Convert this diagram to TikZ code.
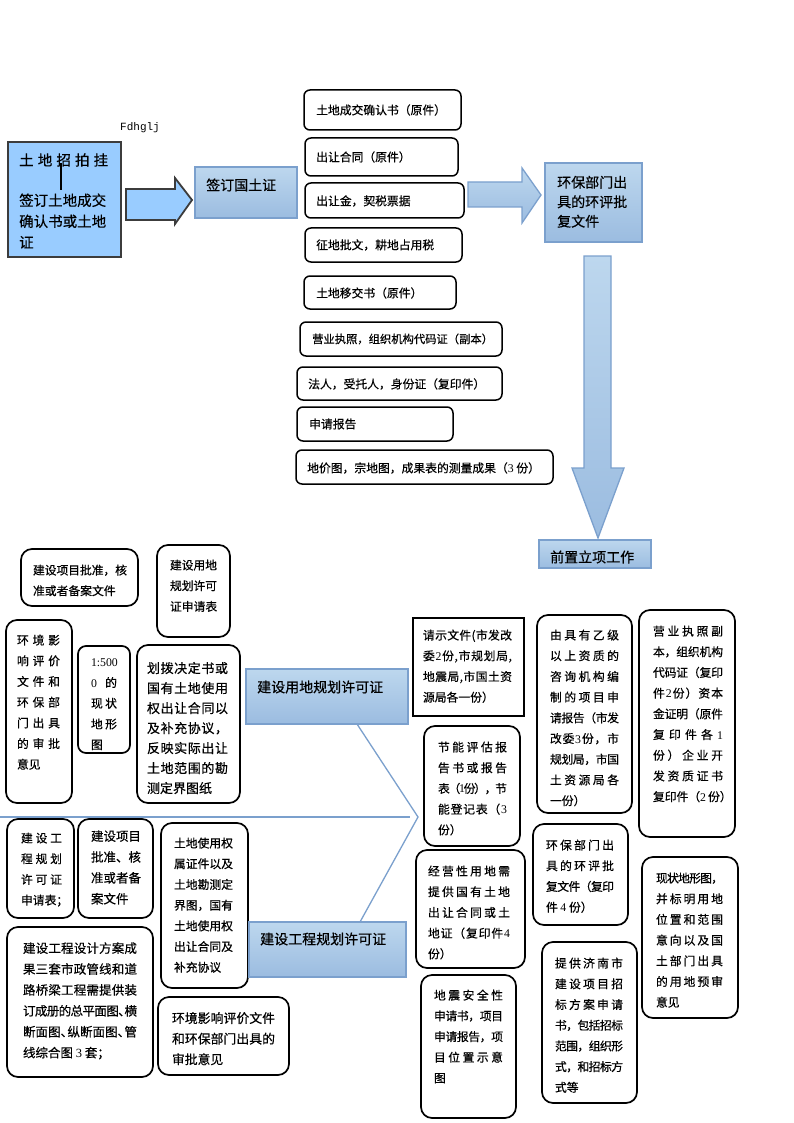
\documentclass[tikz,border=0pt]{standalone}
\usepackage{fontspec}
\setmainfont{Noto Sans CJK SC}[FakeBold=0.5]
\newfontfamily\dfont{Liberation Serif}
\newfontfamily\mfont{Liberation Mono}
\usetikzlibrary{fit,calc}
\definecolor{btop}{HTML}{BDD7EE}
\definecolor{bbot}{HTML}{9BBCE0}
\definecolor{bborder}{HTML}{7BA0CD}
\definecolor{lblue}{HTML}{99CCFF}
\definecolor{dgray}{HTML}{3C3C3C}
\newcommand\dg[1]{{\dfont #1}}
\newcommand\dun{\makebox[0.55em][l]{、}}
\def\sg{\hskip 0pt plus 1fil minus 1fil\relax}
\def\spr#1#2{\hbox to #1{\sprA#2\relax}}
\def\sprA#1{\ifx\relax#1\else#1\expandafter\sprB\fi}
\def\sprB#1{\ifx\relax#1\else\sg#1\expandafter\sprB\fi}
\tikzset{
 rbox/.style={draw=black, line width=1.5pt, rounded corners=6pt, fill=white, inner sep=0pt, outer sep=0pt},
 rbig/.style={rbox, line width=1.7pt, rounded corners=11pt},
 sqbox/.style={draw=black, line width=2pt, fill=white, inner sep=0pt, outer sep=0pt},
 bbox/.style={draw=bborder, line width=1.5pt, top color=btop, bottom color=bbot, inner sep=0pt, outer sep=0pt},
 tx/.style={inner sep=0pt, outer sep=0pt, align=left, anchor=north west, font=\fontsize{11.8}{20.7}\selectfont},
 txm/.style={tx, font=\fontsize{12.5}{20.9}\selectfont},
 tline/.style={inner sep=0pt, anchor=west, font=\fontsize{11.8}{14}\selectfont},
 ttl/.style={inner sep=0pt, anchor=west, font=\fontsize{14}{19.5}\selectfont},
 conn/.style={draw=bborder, line width=1.3pt},
 barrow/.style={draw=bborder, line width=1.3pt, top color=btop, bottom color=bbot},
}
\begin{document}
\begin{tikzpicture}[x=1pt,y=-1pt]
\useasboundingbox (0,0) rectangle (794,1123);
\fill[white] (0,0) rectangle (794,1123);

% ---------- top-left ----------
\node[draw=dgray, line width=2.2pt, fill=lblue, inner sep=0pt, outer sep=0pt, fit={(8,142) (121,257)}] (tdzp) {};
\node[inner sep=0pt, anchor=west, font=\fontsize{14.5}{21}\selectfont] (tdzp1) at (19,160) {\spr{89pt}{土地招拍挂}};
\node[inner sep=0pt, anchor=north west, align=left, font=\fontsize{14.5}{21}\selectfont] (tdzp2) at (19,193.3) {签订土地成交\\确认书或土地\\证};
\draw[line width=1.8pt] (61,163) -- (61,190);
\node[inner sep=0pt, anchor=west, font=\mfont\fontsize{11}{12}\selectfont] (fd) at (120,128) {Fdhglj};

\draw[draw=dgray, line width=1.8pt, fill=lblue] (126,189) -- (175,189) -- (175,178) -- (192,200) -- (175,224) -- (175,220) -- (126,220) -- cycle;

\node[bbox, fit={(195,167) (297,218)}] (qtz) {};
\node[ttl] (qtzt) at (206,185) {签订国土证};

% ---------- top column ----------
\node[rbox, fit={(304,90) (461,130)}] (b1) {};
\node[tline] (t1) at (316,110) {土地成交确认书（原件）};
\node[rbox, fit={(305,138) (458,176)}] (b2) {};
\node[tline] (t2) at (316,157) {出让合同（原件）};
\node[rbox, fit={(305,183) (464,218)}] (b3) {};
\node[tline] (t3) at (316,201) {出让金，契税票据};
\node[rbox, fit={(305,228) (462,262)}] (b4) {};
\node[tline] (t4) at (316,245) {征地批文，耕地占用税};
\node[rbox, fit={(304,276) (456,309)}] (b5) {};
\node[tline] (t5) at (316,293) {土地移交书（原件）};
\node[rbox, fit={(300,322) (502,356)}] (b6) {};
\node[tline, font=\fontsize{11.3}{14}\selectfont] (t6) at (312,339) {营业执照，组织机构代码证（副本）};
\node[rbox, fit={(297,367) (502,400)}] (b7) {};
\node[tline] (t7) at (308,384) {法人，受托人，身份证（复印件）};
\node[rbox, fit={(297,407) (453,441)}] (b8) {};
\node[tline] (t8) at (309,424) {申请报告};
\node[rbox, fit={(296,450) (553,484)}] (b9) {};
\node[tline] (t9) at (307,468) {地价图，宗地图，成果表的测量成果（\dg{3} 份）};

\path[barrow] (468,182) -- (522,182) -- (522,168) -- (541,195) -- (522,223) -- (522,207) -- (468,207) -- cycle;
\node[bbox, fit={(545,163) (642,242)}] (hbwj) {};
\node[inner sep=0pt, anchor=north west, align=left, font=\fontsize{14}{19.5}\selectfont] (hbwjt) at (557,175.6) {环保部门出\\具的环评批\\复文件};

\path[barrow] (584,256) -- (611,256) -- (611,468) -- (624,468) -- (598,538) -- (572,468) -- (584,468) -- cycle;
\node[bbox, fit={(539,540) (651,568)}] (qzlx) {};
\node[ttl] (qzlxt) at (550,557) {前置立项工作};

% ---------- lower left group ----------
\node[rbig, fit={(21,549) (138,606)}] (a1) {};
\node[tx] (a1t) at (33,564.6) {\spr{94pt}{建设项目批准，核}\\准或者备案文件};
\node[rbig, fit={(157,545) (230,637)}] (b1s) {};
\node[tx] (b1st) at (170,559.6) {\spr{47pt}{建设用地}\\\spr{47pt}{规划许可}\\证申请表};
\node[rbig, fit={(6,620) (72,803)}] (c1) {};
\node[tx] (c1t) at (17,634.6) {\spr{43pt}{环境影}\\\spr{43pt}{响评价}\\\spr{43pt}{文件和}\\\spr{43pt}{环保部}\\\spr{43pt}{门出具}\\\spr{43pt}{的审批}\\意见};
\node[rbig, rounded corners=8pt, fit={(78,646) (130,753)}] (d1) {};
\begin{scope}
\clip (80,648) rectangle (128,751.5);
\node[tx] (d1t) at (91,658.5) {\dg{1:500}\\\spr{26pt}{{\dg0}的}\\\spr{26pt}{现状}\\\spr{26pt}{地形}\\图};
\end{scope}
\node[rbig, fit={(137,645) (240,803)}] (e1) {};
\node[tx, font=\fontsize{13}{20}\selectfont] (e1t) at (147,662) {\spr{81pt}{划拨决定书或}\\\spr{81pt}{国有土地使用}\\\spr{81pt}{权出让合同以}\\\spr{81pt}{及补充协议，}\\\spr{81pt}{反映实际出让}\\\spr{81pt}{土地范围的勘}\\测定界图纸};

\node[bbox, fit={(246,669) (408,724)}] (jsyd) {};
\node[ttl] (jsydt) at (257,687) {建设用地规划许可证};

% ---------- right group ----------
\node[sqbox, fit={(413,618) (524,716)}] (g1) {};
\node[tx] (g1t) at (423,629.6) {\spr{89pt}{请示文件(市发改}\\\spr{89pt}{委{\dg2}份,市规划局,}\\\spr{89pt}{地震局,市国土资}\\源局各一份）};
\node[rbig, fit={(424,726) (520,846)}] (h1) {};
\node[tx] (h1t) at (438,741.6) {\spr{69pt}{节能评估报}\\\spr{69pt}{告书或报告}\\\spr{69pt}{表（{\dg1}份），节}\\\spr{69pt}{能登记表（{\dg3}}\\份）};
\node[rbig, fit={(537,615) (632,813)}] (i1) {};
\node[tx] (i1t) at (550,629.6) {\spr{69pt}{由具有乙级}\\\spr{69pt}{以上资质的}\\\spr{69pt}{咨询机构编}\\\spr{69pt}{制的项目申}\\\spr{69pt}{请报告（市发}\\\spr{69pt}{改委{\dg3}份，市}\\\spr{69pt}{规划局，市国}\\\spr{69pt}{土资源局各}\\一份）};
\node[rbig, fit={(639,610) (735,837)}] (j1) {};
\node[tx] (j1t) at (653,625.6) {\spr{70pt}{营业执照副}\\\spr{70pt}{本，组织机构}\\\spr{70pt}{代码证（复印}\\\spr{70pt}{件{\dg2}份）资本}\\\spr{70pt}{金证明（原件}\\\spr{70pt}{复印件各{\dg1}}\\\spr{70pt}{份）企业开}\\\spr{70pt}{发资质证书}\\复印件（\dg{2}\,份）};
\node[rbig, fit={(533,824) (628,925)}] (k1) {};
\node[tx] (k1t) at (546,839.6) {\spr{68pt}{环保部门出}\\\spr{68pt}{具的环评批}\\\spr{68pt}{复文件（复印}\\件 \dg{4} 份）};
\node[rbig, fit={(416,850) (525,968)}] (l1) {};
\node[tx] (l1t) at (428,865.6) {\spr{82pt}{经营性用地需}\\\spr{82pt}{提供国有土地}\\\spr{82pt}{出让合同或土}\\\spr{82pt}{地证（复印件{\dg4}}\\份）};
\node[rbig, fit={(421,975) (516,1118)}] (m1) {};
\node[tx] (m1t) at (434,989.6) {\spr{69pt}{地震安全性}\\\spr{69pt}{申请书，项目}\\\spr{69pt}{申请报告，项}\\\spr{69pt}{目位置示意}\\图};
\node[rbig, fit={(542,942) (637,1103)}] (n1) {};
\node[tx] (n1t) at (555,957.6) {\spr{68pt}{提供济南市}\\\spr{68pt}{建设项目招}\\\spr{68pt}{标方案申请}\\\spr{68pt}{书，包括招标}\\\spr{68pt}{范围，组织形}\\\spr{68pt}{式，和招标方}\\式等};
\node[rbig, fit={(642,857) (738,1018)}] (o1) {};
\node[tx] (o1t) at (656,872.6) {\spr{67pt}{现状地形图，}\\\spr{67pt}{并标明用地}\\\spr{67pt}{位置和范围}\\\spr{67pt}{意向以及国}\\\spr{67pt}{土部门出具}\\\spr{67pt}{的用地预审}\\意见};

% ---------- lower-left bottom group ----------
\node[rbig, fit={(7,819) (74,918)}] (p1) {};
\node[tx] (p1t) at (21,832.6) {\spr{41pt}{建设工}\\\spr{41pt}{程规划}\\\spr{41pt}{许可证}\\申请表；};
\node[rbig, fit={(78,819) (153,918)}] (q1) {};
\node[txm] (q1t) at (91,830.3) {\spr{50pt}{建设项目}\\\spr{50pt}{批准、核}\\\spr{50pt}{准或者备}\\案文件};
\node[rbig, fit={(161,823) (248,988)}] (r1) {};
\node[tx] (r1t) at (174,837.6) {\spr{59pt}{土地使用权}\\\spr{59pt}{属证件以及}\\\spr{59pt}{土地勘测定}\\\spr{59pt}{界图，国有}\\\spr{59pt}{土地使用权}\\\spr{59pt}{出让合同及}\\补充协议};
\node[rbig, fit={(7,927) (153,1077)}] (s1) {};
\node[txm] (s1t) at (23,942.3) {\spr{114pt}{建设工程设计方案成}\\\spr{114pt}{果三套市政管线和道}\\\spr{114pt}{路桥梁工程需提供装}\\\spr{114pt}{订成册的总平面图\dun 横}\\\spr{114pt}{断面图\dun 纵断面图\dun 管}\\线综合图 \dg{3} 套；};
\node[rbig, fit={(158,997) (289,1075)}] (t1b) {};
\node[tx, font=\fontsize{12.8}{20.6}\selectfont] (t1bt) at (172,1012.1) {\spr{103pt}{环境影响评价文件}\\\spr{103pt}{和环保部门出具的}\\审批意见};

\node[bbox, fit={(249,922) (406,977)}] (jsgc) {};
\node[ttl] (jsgct) at (260,939) {建设工程规划许可证};

% ---------- connectors ----------
\coordinate (apex) at (418,817);
\coordinate (hl0) at (0,817);
\coordinate (hl1) at (410,817);
\draw[conn] (hl0) -- (hl1);
\draw[conn] ($(jsyd.south west)+(111,0)$) -- (apex) -- ($(jsgc.north west)+(111,0)$);
\end{tikzpicture}
\end{document}
